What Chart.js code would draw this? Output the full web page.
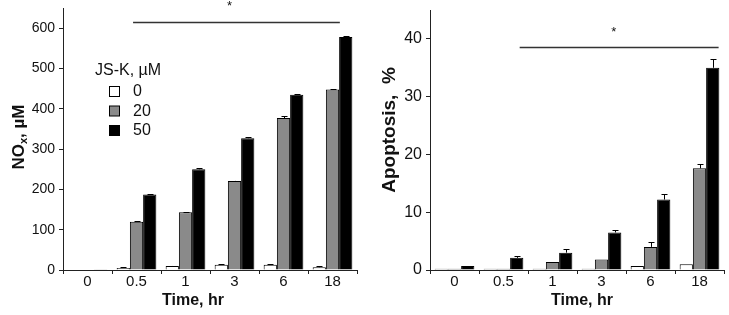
<!DOCTYPE html>
<html>
<head>
<meta charset="utf-8">
<script src="https://cdn.jsdelivr.net/npm/chart.js@4"></script>
<style>
html, body { margin: 0; padding: 0; background: #fff; }
#wrap { position: relative; width: 729px; height: 315px; }
#noxChart { position: absolute; left: 0; top: 0; }
#apopChart { position: absolute; left: 365px; top: 0; }
</style>
</head>
<body>
<div id="wrap">
    <canvas id="noxChart" width="365" height="315"></canvas>
    <canvas id="apopChart" width="364" height="315"></canvas>
</div>
<script>
const timeLabels = ['0', '0.5', '1', '3', '6', '18'];
const doseLabels = ['0', '20', '50'];

// NOx, uM
const noxCtrl = [0, 5, 10, 13, 13, 7];
const nox20 = [0, 120, 143, 221, 377, 448];
const nox50 = [2, 187, 250, 327, 435, 578];
const noxErrCtrl = [0, 3, 1, 1, 1, 2];
const noxErr20 = [0, 2, 2, 1, 6, 2];
const noxErr50 = [0, 2, 2, 2, 2, 2];
const noxTicks = [0, 100, 200, 300, 400, 500, 600];

// Apoptosis, %
const apopCtrl = [0.2, 0.2, 0.2, 0.2, 0.7, 1.0];
const apop20 = [0.2, 0.2, 1.4, 1.8, 4.0, 17.6];
const apop50 = [0.7, 2.1, 3.0, 6.5, 12.2, 35.0];
const apopErrCtrl = [0, 0, 0, 0, 0, 0];
const apopErr20 = [0, 0, 0, 0, 0.8, 0.8];
const apopErr50 = [0, 0.3, 0.6, 0.5, 1.0, 1.6];
const apopTicks = [0, 10, 20, 30, 40];

const barColors = ['#ffffff', '#8a8a8a', '#000000'];
const FONT = "'Liberation Sans', Arial, sans-serif";

const figureExtras = {
    id: 'figureExtras',
    afterDatasetsDraw(chart, args, opts) {
        const ctx = chart.ctx;
        const xs = chart.scales.x;
        const ys = chart.scales.y;
        const area = chart.chartArea;

        // error bars (upper half only)
        ctx.save();
        ctx.strokeStyle = '#000';
        ctx.lineWidth = 1;
        chart.data.datasets.forEach((ds, i) => {
            chart.getDatasetMeta(i).data.forEach((bar, j) => {
                const err = ds.errors[j];
                if (!err) return;
                const top = Math.round(ys.getPixelForValue(ds.data[j] + err)) + 0.5;
                const bx = Math.round(bar.x) + 0.5;
                ctx.beginPath();
                ctx.moveTo(bx, bar.y);
                ctx.lineTo(bx, top);
                ctx.moveTo(bx - 3, top);
                ctx.lineTo(bx + 3, top);
                ctx.stroke();
            });
        });

        // significance line + asterisk
        const sig = opts.sig;
        const ly = Math.round(ys.getPixelForValue(sig.value)) + 0.5;
        ctx.strokeStyle = '#333';
        ctx.lineWidth = 1.5;
        ctx.beginPath();
        ctx.moveTo(xs.getPixelForValue(sig.from), ly);
        ctx.lineTo(xs.getPixelForValue(sig.to), ly);
        ctx.stroke();
        ctx.fillStyle = '#111';
        ctx.font = `13px ${FONT}`;
        ctx.textAlign = 'center';
        ctx.textBaseline = 'middle';
        ctx.fillText('*', xs.getPixelForValue(sig.starAt), ys.getPixelForValue(sig.starValue));

        // x title
        ctx.font = `bold 16px ${FONT}`;
        ctx.fillText('Time, hr', (area.left + area.right) / 2 + opts.xTitleShift, 301);

        // y title, rotated, optional subscript
        ctx.translate(opts.yTitleX, opts.yTitleY);
        ctx.rotate(-Math.PI / 2);
        const big = `bold ${opts.yTitleSize}px ${FONT}`;
        const small = `bold ${Math.round(opts.yTitleSize * 0.65)}px ${FONT}`;
        const parts = opts.yTitle;
        let total = 0;
        parts.forEach(p => { ctx.font = p.sub ? small : big; total += ctx.measureText(p.text).width; });
        let px = -total / 2;
        ctx.textAlign = 'left';
        parts.forEach(p => {
            ctx.font = p.sub ? small : big;
            ctx.fillText(p.text, px, p.sub ? 5 : 0);
            px += ctx.measureText(p.text).width;
        });
        ctx.restore();

        // legend
        if (opts.legend) {
            ctx.save();
            ctx.fillStyle = '#111';
            ctx.font = `16px ${FONT}`;
            ctx.textAlign = 'left';
            ctx.textBaseline = 'middle';
            ctx.fillText('JS-K, \u00b5M', 95, 71);
            chart.data.datasets.forEach((ds, i) => {
                const cy = 92 + i * 19.5;
                ctx.fillStyle = ds.backgroundColor;
                ctx.fillRect(109.5, cy - 5.5, 10, 10);
                ctx.strokeStyle = '#000';
                ctx.lineWidth = 1;
                ctx.strokeRect(109.5, cy - 5.5, 10, 10);
                ctx.fillStyle = '#111';
                ctx.fillText(ds.label, 133, cy);
            });
            ctx.restore();
        }
    }
};

const makeBarChart = (canvasId, series, errors, yTicks, yMax, yWidth, rightPad, topPad, yTickSize, extras) => {
    const canvas = document.getElementById(canvasId);
    return new Chart(canvas.getContext('2d'), {
        type: 'bar',
        data: {
            labels: timeLabels,
            datasets: series.map((values, i) => ({
                label: doseLabels[i],
                data: values,
                errors: errors[i],
                backgroundColor: barColors[i],
                borderColor: '#000',
                borderWidth: 1,
                categoryPercentage: 0.81,
                barPercentage: 1
            }))
        },
        options: {
            responsive: false,
            animation: false,
            layout: { padding: { top: topPad, right: rightPad, left: 0, bottom: 0 } },
            scales: {
                x: {
                    grid: { drawOnChartArea: false, tickLength: 4, color: '#222', offset: true },
                    border: { color: '#222', width: 1 },
                    ticks: { font: { family: FONT, size: 15 }, color: '#111', padding: -1, maxRotation: 0 },
                    afterFit: s => { s.height = 45; s.paddingLeft = 0; s.paddingRight = 0; }
                },
                y: {
                    min: 0,
                    max: yMax,
                    grid: { drawOnChartArea: false, tickLength: 4, color: '#222' },
                    border: { color: '#222', width: 1 },
                    ticks: { font: { family: FONT, size: yTickSize }, color: '#111', padding: 4 },
                    afterBuildTicks: s => { s.ticks = yTicks.map(v => ({ value: v })); },
                    afterFit: s => { s.width = yWidth; s.paddingTop = 0; s.paddingBottom = 0; }
                }
            },
            plugins: {
                legend: { display: false },
                tooltip: { enabled: false },
                figureExtras: extras
            }
        },
        plugins: [figureExtras]
    });
};

makeBarChart('noxChart',
    [noxCtrl, nox20, nox50], [noxErrCtrl, noxErr20, noxErr50],
    noxTicks, 650, 63, 8, 8, 14,
    {
        sig: { from: 0.93, to: 5.15, value: 615, starAt: 2.9, starValue: 655 },
        xTitleShift: -17,
        yTitleX: 19, yTitleY: 137, yTitleSize: 17,
        yTitle: [{ text: 'NO' }, { text: 'x', sub: true }, { text: ', \u00b5M' }],
        legend: true
    });

makeBarChart('apopChart',
    [apopCtrl, apop20, apop50], [apopErrCtrl, apopErr20, apopErr50],
    apopTicks, 45, 65, 5, 10, 16,
    {
        sig: { from: 1.33, to: 5.39, value: 38.6, starAt: 3.25, starValue: 41.2 },
        xTitleShift: 5,
        yTitleX: 25, yTitleY: 130, yTitleSize: 19,
        yTitle: [{ text: 'Apoptosis,  %' }],
        legend: false
    });
</script>
</body>
</html>
